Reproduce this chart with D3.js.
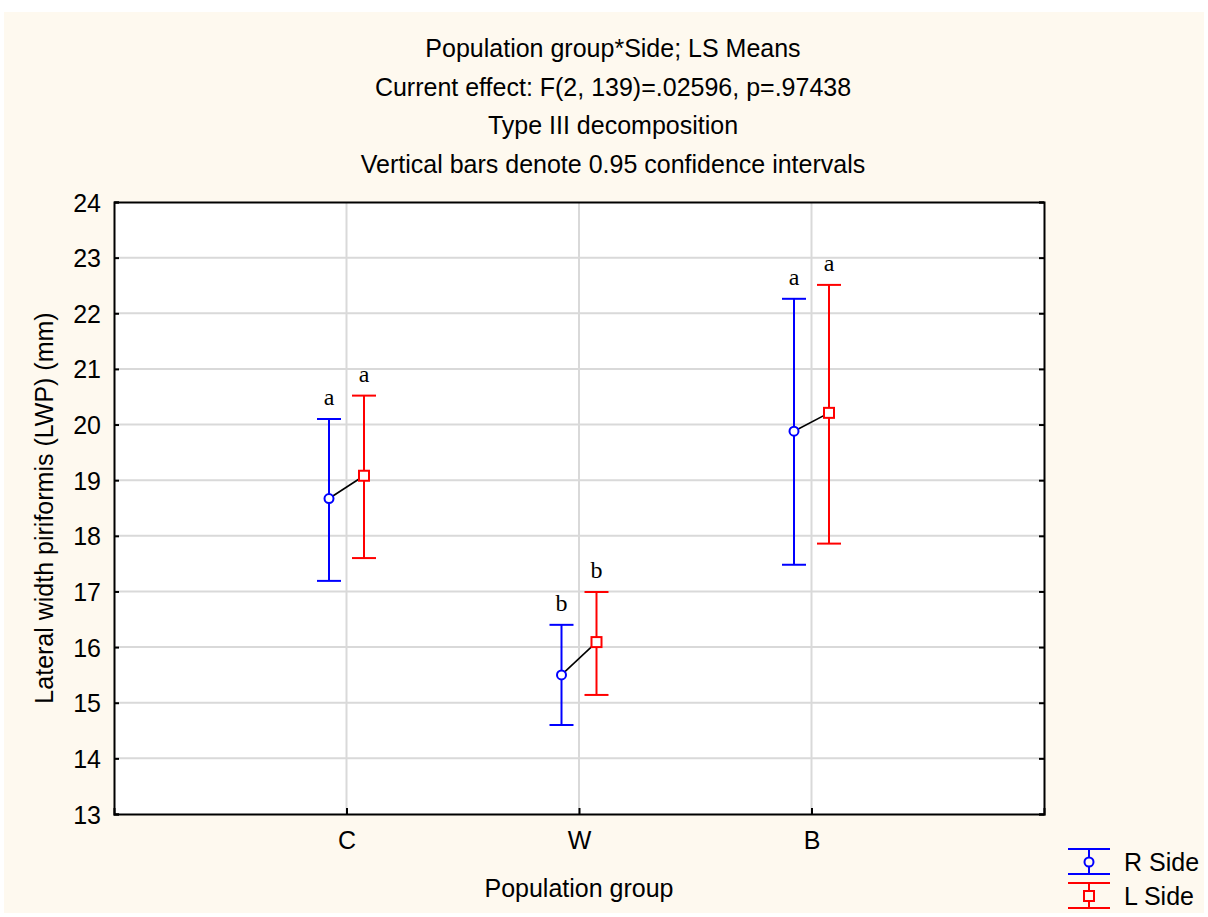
<!DOCTYPE html>
<html>
<head>
<meta charset="utf-8">
<script src="https://cdn.jsdelivr.net/npm/d3@7"></script>
<style>
  body { margin: 0; background: #fff; }
  text { font-family: "Liberation Sans", Arial, sans-serif; fill: #000; }
</style>
</head>
<body>
<div id="chart"></div>
<script>
// chart data
var groups = ["C", "W", "B"]
var sides = ["R Side", "L Side"]
var rMean = [18.67, 15.50, 19.88]
var rLow = [17.19, 14.60, 17.48]
var rHigh = [20.10, 16.40, 22.26]
var lMean = [19.08, 16.09, 20.21]
var lLow = [17.60, 15.14, 17.86]
var lHigh = [20.52, 16.99, 22.51]
var letters = ["a", "b", "a"]
var yTicks = [13, 14, 15, 16, 17, 18, 19, 20, 21, 22, 23, 24]
var titleLines = [
  "Population group*Side; LS Means",
  "Current effect: F(2, 139)=.02596, p=.97438",
  "Type III decomposition",
  "Vertical bars denote 0.95 confidence intervals"
]

var width = 1208,
    height = 917
var margin = {top: 202, right: 164, bottom: 103, left: 114}
var innerW = width - margin.left - margin.right,
    innerH = height - margin.top - margin.bottom
var fontSize = "25px"

var colors = {"R Side": "#0000ff", "L Side": "#ff0000"}
var offset = {"R Side": -17.5, "L Side": 17.5}

var svg = d3.select("#chart")
  .append("svg")
    .attr("width", width)
    .attr("height", height)

// cream background with thin white border
svg.append("rect")
  .attr("x", 4).attr("y", 12)
  .attr("width", width - 8).attr("height", height - 16)
  .attr("fill", "#fef9ef")

// titles
svg.selectAll(".title")
  .data(titleLines)
  .enter()
  .append("text")
    .attr("x", 613)
    .attr("y", function(d, i) { return 57 + i * 38.5 })
    .attr("text-anchor", "middle")
    .style("font-size", fontSize)
    .text(function(d) { return d })

var g = svg.append("g")
  .attr("transform", "translate(" + margin.left + "," + margin.top + ")")

var x = d3.scalePoint()
  .domain(groups)
  .range([0, innerW])
  .padding(1)

var y = d3.scaleLinear()
  .domain([13, 24])
  .range([innerH, 0])

g.append("rect")
  .attr("width", innerW)
  .attr("height", innerH)
  .attr("fill", "#fff")

// grid lines
g.selectAll(".hgrid")
  .data(yTicks.slice(1, -1))
  .enter()
  .append("line")
    .attr("x1", 0).attr("x2", innerW)
    .attr("y1", function(d) { return y(d) })
    .attr("y2", function(d) { return y(d) })
    .attr("stroke", "#d9d9d9")
    .attr("stroke-width", 2)

g.selectAll(".vgrid")
  .data(groups)
  .enter()
  .append("line")
    .attr("x1", function(d) { return x(d) })
    .attr("x2", function(d) { return x(d) })
    .attr("y1", 0).attr("y2", innerH)
    .attr("stroke", "#d9d9d9")
    .attr("stroke-width", 2)

// axes (ticks inside)
var yAxis = g.append("g")
  .call(d3.axisLeft(y).tickValues(yTicks).tickSize(-5).tickPadding(13))
var yAxisR = g.append("g")
  .attr("transform", "translate(" + innerW + ",0)")
  .call(d3.axisRight(y).tickValues(yTicks).tickSize(-5).tickFormat(""))
var xAxis = g.append("g")
  .attr("transform", "translate(0," + innerH + ")")
  .call(d3.axisBottom(x).tickSize(-6).tickPadding(17))
var xAxisT = g.append("g")
  .call(d3.axisTop(x).tickSize(0).tickFormat(""))

;[yAxis, yAxisR, xAxis, xAxisT].forEach(function(a) {
  a.select(".domain").attr("stroke", "#000").attr("stroke-width", 2)
  a.selectAll(".tick line").attr("stroke", "#000").attr("stroke-width", 2)
  a.selectAll("text")
    .style("font-family", "Liberation Sans, Arial, sans-serif")
    .style("font-size", fontSize)
    .attr("fill", "#000")
})
yAxis.selectAll("text").attr("dy", "0.36em")
xAxis.selectAll("text").attr("dy", "0.71em")

// axis titles
svg.append("text")
  .attr("x", 579)
  .attr("y", 897)
  .attr("text-anchor", "middle")
  .style("font-size", fontSize)
  .text("Population group")

svg.append("text")
  .attr("transform", "translate(53,508) rotate(-90)")
  .attr("text-anchor", "middle")
  .style("font-size", fontSize)
  .text("Lateral width piriformis (LWP) (mm)")

// build the series rows
var series = [
  {side: "R Side", mean: rMean, low: rLow, high: rHigh},
  {side: "L Side", mean: lMean, low: lLow, high: lHigh}
]
var rows = []
series.forEach(function(s) {
  groups.forEach(function(gr, i) {
    rows.push({side: s.side, group: gr, mean: s.mean[i], low: s.low[i], high: s.high[i], letter: letters[i]})
  })
})
function px(d) { return x(d.group) + offset[d.side] }

// connecting lines between R and L means
g.selectAll(".link")
  .data(groups)
  .enter()
  .append("line")
    .attr("x1", function(d, i) { return x(d) + offset["R Side"] })
    .attr("y1", function(d, i) { return y(rMean[i]) })
    .attr("x2", function(d, i) { return x(d) + offset["L Side"] })
    .attr("y2", function(d, i) { return y(lMean[i]) })
    .attr("stroke", "#000")
    .attr("stroke-width", 1.6)

// error bars
var bars = g.selectAll(".bar")
  .data(rows)
  .enter()
  .append("g")

bars.append("line")
  .attr("x1", px).attr("x2", px)
  .attr("y1", function(d) { return y(d.low) })
  .attr("y2", function(d) { return y(d.high) })
  .attr("stroke", function(d) { return colors[d.side] })
  .attr("stroke-width", 2)

bars.selectAll(".cap")
  .data(function(d) { return [{d: d, v: d.high}, {d: d, v: d.low}] })
  .enter()
  .append("line")
    .attr("x1", function(c) { return px(c.d) - 12 })
    .attr("x2", function(c) { return px(c.d) + 12 })
    .attr("y1", function(c) { return y(c.v) })
    .attr("y2", function(c) { return y(c.v) })
    .attr("stroke", function(c) { return colors[c.d.side] })
    .attr("stroke-width", 2)

// markers
bars.filter(function(d) { return d.side == "R Side" })
  .append("circle")
    .attr("cx", px)
    .attr("cy", function(d) { return y(d.mean) })
    .attr("r", 4.5)
    .attr("fill", "#fff")
    .attr("stroke", colors["R Side"])
    .attr("stroke-width", 2)

bars.filter(function(d) { return d.side == "L Side" })
  .append("rect")
    .attr("x", function(d) { return px(d) - 5 })
    .attr("y", function(d) { return y(d.mean) - 5 })
    .attr("width", 10).attr("height", 10)
    .attr("fill", "#fff")
    .attr("stroke", colors["L Side"])
    .attr("stroke-width", 2)

// significance letters
bars.append("text")
  .attr("x", px)
  .attr("y", function(d) { return y(d.high) - 14 })
  .attr("text-anchor", "middle")
  .style("font-family", "Liberation Serif, Times New Roman, serif")
  .style("font-size", "24px")
  .text(function(d) { return d.letter })

// legend
var legend = svg.selectAll(".legend")
  .data(sides)
  .enter()
  .append("g")
    .attr("transform", function(d, i) { return "translate(1089," + (862 + i * 34) + ")" })

legend.append("line")
  .attr("x1", 0).attr("x2", 0).attr("y1", -13).attr("y2", 13)
  .attr("stroke", function(d) { return colors[d] }).attr("stroke-width", 2)
legend.append("line")
  .attr("x1", -21).attr("x2", 21).attr("y1", -13).attr("y2", -13)
  .attr("stroke", function(d) { return colors[d] }).attr("stroke-width", 2)
legend.append("line")
  .attr("x1", -21).attr("x2", 21).attr("y1", 12).attr("y2", 12)
  .attr("stroke", function(d) { return colors[d] }).attr("stroke-width", 2)
legend.filter(function(d) { return d == "R Side" })
  .append("circle")
    .attr("r", 4.5)
    .attr("fill", "#fef9ef")
    .attr("stroke", colors["R Side"]).attr("stroke-width", 2)
legend.filter(function(d) { return d == "L Side" })
  .append("rect")
    .attr("x", -5).attr("y", -5).attr("width", 10).attr("height", 10)
    .attr("fill", "#fef9ef")
    .attr("stroke", colors["L Side"]).attr("stroke-width", 2)
legend.append("text")
  .attr("x", 35)
  .attr("y", 9)
  .style("font-size", fontSize)
  .text(function(d) { return d })
</script>
</body>
</html>
